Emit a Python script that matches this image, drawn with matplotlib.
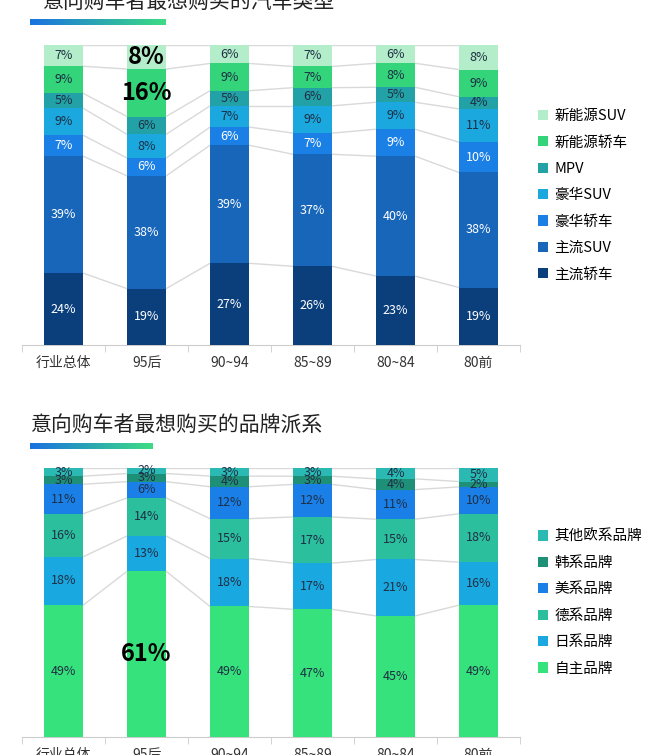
import numpy as np
import matplotlib.pyplot as plt
from matplotlib.colors import LinearSegmentedColormap

plt.rcParams['font.family'] = ['Noto Sans CJK JP', 'Noto Sans CJK SC', 'DejaVu Sans']

groups = ['行业总体', '95后', '90~94', '85~89', '80~84', '80前']

# top chart: car types, bottom to top
type_names = ['主流轿车', '主流SUV', '豪华轿车', '豪华SUV', 'MPV', '新能源轿车', '新能源SUV']
type_vals = [
    [24, 19, 27, 26, 23, 19],
    [39, 38, 39, 37, 40, 38],
    [7, 6, 6, 7, 9, 10],
    [9, 8, 7, 9, 9, 11],
    [5, 6, 5, 6, 5, 4],
    [9, 16, 9, 7, 8, 9],
    [7, 8, 6, 7, 6, 8],
]
type_colors = ['#0b3f7c', '#1766b9', '#1b80e6', '#1aa8de', '#22a2a6', '#33d47a', '#b3edc9']
type_txt = ['white', 'white', 'white', '#1f2f45', '#1f2f45', '#1f2f45', '#1f2f45']

# bottom chart: brand origins, bottom to top
brand_names = ['自主品牌', '日系品牌', '德系品牌', '美系品牌', '韩系品牌', '其他欧系品牌']
brand_vals = [
    [49, 61, 49, 47, 45, 49],
    [18, 13, 18, 17, 21, 16],
    [16, 14, 15, 17, 15, 18],
    [11, 6, 12, 12, 11, 10],
    [3, 3, 4, 3, 4, 2],
    [3, 2, 3, 3, 4, 5],
]
brand_colors = ['#36e27b', '#1aa8e0', '#2cbf9e', '#1a80e8', '#1f9078', '#2ab9b3']

# highlighted (big) labels: (series index, group index)
top_big = {(5, 1), (6, 1)}
bot_big = {(0, 1)}

fig = plt.figure(figsize=(6.5, 7.55), dpi=100)


def stacked(ax, names, vals, colors, txtcols, big):
    v = np.array(vals, dtype=float)
    v = v / v.sum(axis=0) * 100
    x = np.arange(len(groups))
    w = 0.47
    bottom = np.zeros(len(groups))
    for i, name in enumerate(names):
        ax.bar(x, v[i], w, bottom=bottom, color=colors[i], label=name, zorder=3)
        top = bottom + v[i]
        # connector lines between bars
        for j in range(len(groups) - 1):
            ax.plot([x[j] + w / 2, x[j + 1] - w / 2], [top[j], top[j + 1]],
                    color='#d9d9d9', lw=1, zorder=2)
        for j in range(len(groups)):
            yc = bottom[j] + v[i][j] / 2
            if (i, j) in big:
                ax.text(x[j], yc, f'{vals[i][j]}%', ha='center', va='center',
                        fontsize=17, fontweight='bold', color='black', zorder=5)
            else:
                ax.text(x[j], yc, f'{vals[i][j]}%', ha='center', va='center',
                        fontsize=9, color=txtcols[i], zorder=4)
        bottom = top
    ax.set_xlim(-0.5, len(groups) - 0.5)
    ax.set_ylim(0, 100)
    ax.set_yticks([])
    ax.set_xticks(x)
    ax.set_xticklabels(groups, fontsize=10, color='#333333')
    ax.set_xticks(np.arange(-0.5, len(groups)), minor=True)
    ax.tick_params(axis='x', which='major', length=0, pad=8)
    ax.tick_params(axis='x', which='minor', length=5, color='#cccccc')
    for s in ['top', 'right', 'left']:
        ax.spines[s].set_visible(False)
    ax.spines['bottom'].set_color('#cccccc')
    h, l = ax.get_legend_handles_labels()
    ax.legend(h[::-1], l[::-1], loc='center left', bbox_to_anchor=(1.01, 0.5),
              frameon=False, fontsize=10.5, handlelength=0.7, handleheight=0.7,
              handletextpad=0.4, labelspacing=0.85)


ax1 = fig.add_axes([0.034, 0.543, 0.766, 0.397])
stacked(ax1, type_names, type_vals, type_colors, type_txt, top_big)

ax2 = fig.add_axes([0.034, 0.024, 0.766, 0.356])
stacked(ax2, brand_names, brand_vals, brand_colors, ['#1f2f45'] * 6, bot_big)

# titles with gradient underline
fig.text(0.065, 0.997, '意向购车者最想购买的汽车类型', fontsize=15, color='#222222', va='center')
fig.text(0.046, 0.437, '意向购车者最想购买的品牌派系', fontsize=15, color='#222222', va='center')
grad = np.linspace(0, 1, 100).reshape(1, -1)
cm = LinearSegmentedColormap.from_list('g', ['#1a72e0', '#3ddc84'])
for rect in ([0.046, 0.967, 0.208, 0.008], [0.046, 0.405, 0.188, 0.008]):
    gax = fig.add_axes(rect)
    gax.imshow(grad, aspect='auto', cmap=cm)
    gax.axis('off')

fig.savefig('out.png', dpi=100)
